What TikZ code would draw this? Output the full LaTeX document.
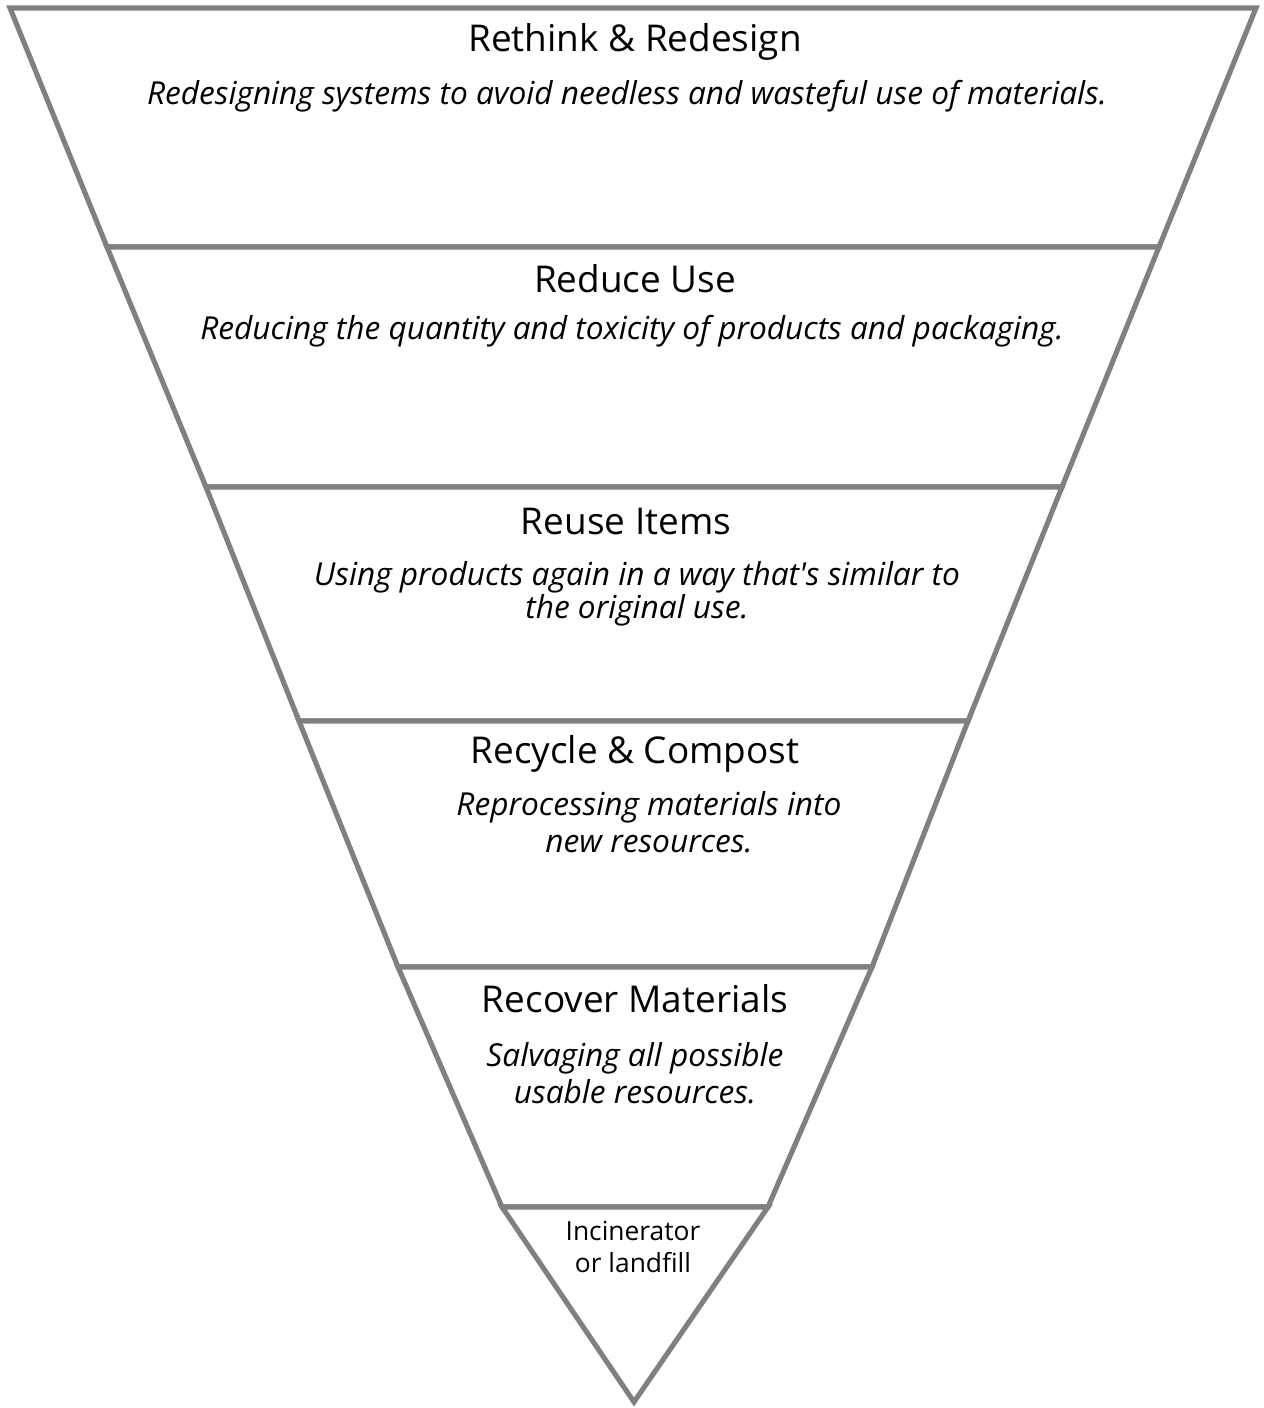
\documentclass[tikz,border=0pt]{standalone}
\usepackage{fontspec}
\setmainfont{Open Sans}
\usepackage{tikz}
\usetikzlibrary{positioning}

\tikzset{
    band/.style={draw=bandgray,line width=1.45pt,fill=white},
    title/.style={font=\fontsize{10.5pt}{12pt}\selectfont,inner sep=0pt},
    note/.style={font=\fontsize{9.0pt}{10.5pt}\selectfont\itshape,align=center,inner sep=0pt},
    small/.style={font=\fontsize{7.5pt}{9.3pt}\selectfont,align=center,inner sep=0pt}
}
\definecolor{bandgray}{HTML}{808080}

\begin{document}
\begin{tikzpicture}[x=0.01cm,y=-0.01cm]

\useasboundingbox (0,0) rectangle (1264,1408);

% ---------------- Corners of the bands ----------------
\foreach \i/\y/\l/\r in {0/8/10/1256,1/247/107/1159,2/487/206/1062,
                          3/721/299/968,4/967/398/872,5/1207/502/768} {
    \coordinate (l\i) at (\l,\y);
    \coordinate (r\i) at (\r,\y);
}
\coordinate (tip) at (634,1402);

% ---------------- Bands ----------------
\foreach \i/\j in {0/1,1/2,2/3,3/4,4/5} {
    \draw[band] (l\i) -- (r\i) -- (r\j) -- (l\j) -- cycle;
}
\draw[band] (l5) -- (r5) -- (tip) -- cycle;

% ---------------- Texts ----------------
\node[title] (t1) at (635,42)  {Rethink \& Redesign};
\node[note]  (n1) at (627,96)  {Redesigning systems to avoid needless and wasteful use of materials.};

\node[title] (t2) at (635,279) {Reduce Use};
\node[note]  (n2) at (632,331) {Reducing the quantity and toxicity of products and packaging.};

\node[title] (t3) at (626,521) {Reuse Items};
\node[note,font=\fontsize{9.0pt}{9.4pt}\selectfont\itshape]
             (n3) at (637,594) {Using products again in a way that\textquotesingle s similar to\\the original use.};

\node[title] (t4) at (635,754) {Recycle \& Compost};
\node[note]  (n4) at (649,822) {Reprocessing materials into\\new resources.};

\node[title] (t5) at (635,999) {Recover Materials};
\node[note]  (n5) at (635,1073) {Salvaging all possible\\usable resources.};

\node[small] (n6) at (633,1247) {Incinerator\\or landfill};

\end{tikzpicture}
\end{document}
